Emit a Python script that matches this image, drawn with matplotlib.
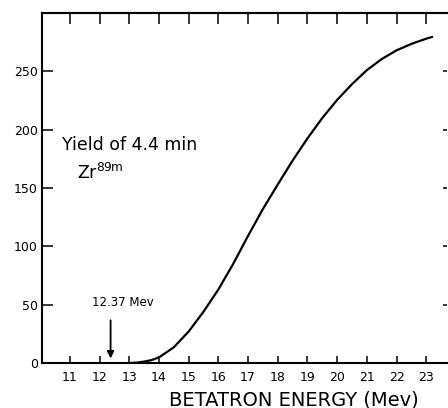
import matplotlib
matplotlib.use("Agg")
import matplotlib.pyplot as plt

# === Data ===
ENERGY = [13.0, 13.25, 13.5, 13.75, 14.0, 14.5, 15.0, 15.5, 16.0, 16.5, 17.0,
          17.5, 18.0, 18.5, 19.0, 19.5, 20.0, 20.5, 21.0, 21.5, 22.0, 22.5,
          23.0, 23.2]
YIELD = [0, 0.3, 1.2, 2.5, 4.8, 13.5, 27, 44, 63, 85, 109,
         132, 153, 173.5, 192.5, 210, 225.5, 239, 251, 260.5, 268, 273.5,
         278, 279.5]
X_TICKS = list(range(11, 24))
Y_TICKS = [0, 50, 100, 150, 200, 250]
THRESHOLD = 12.37

fig = plt.figure(figsize=(4.48, 4.08), dpi=100)
ax = fig.add_axes([42 / 448, 1 - 363 / 408, 405 / 448, 350 / 408])

ax.plot(ENERGY, YIELD, color="black", linewidth=1.6,
        solid_capstyle="round", solid_joinstyle="round")

ax.set_xlim(10.06, 23.7)
ax.set_ylim(0, 300)

ax.set_xticks(X_TICKS)
ax.set_xticklabels([str(t) for t in X_TICKS], fontsize=9)
ax.set_yticks(Y_TICKS)
ax.set_yticklabels([str(t) for t in Y_TICKS], fontsize=9)

ax.tick_params(axis="x", direction="in", bottom=True, top=False,
               length=5, width=1.1, pad=6)
ax.tick_params(axis="y", direction="in", left=True, right=False,
               length=8, width=1.1, pad=3)

# longer ticks along the top, short ones on the right
top = ax.secondary_xaxis("top")
top.set_xticks(X_TICKS)
top.tick_params(direction="in", length=8, width=1.1, labeltop=False)
top.spines["top"].set_linewidth(1.5)

right = ax.secondary_yaxis("right")
right.set_yticks(Y_TICKS)
right.tick_params(direction="in", length=3, width=1.1, labelright=False)
right.spines["right"].set_visible(False)

for side in ["left", "bottom", "top"]:
    ax.spines[side].set_linewidth(1.5)
ax.spines["right"].set_visible(False)

# annotations
ax.text(10.73, 187, "Yield of 4.4 min", fontsize=12.5, va="center", ha="left")
ax.text(11.25, 163, r"Zr$^{\mathregular{89m}}$", fontsize=12.5, va="center", ha="left")

ax.annotate("", xy=(THRESHOLD, 1.5), xytext=(THRESHOLD, 39),
            arrowprops=dict(arrowstyle="-|>", color="black", lw=1.3,
                            mutation_scale=10))
ax.text(11.74, 51.5, "12.37 Mev", fontsize=8.5, va="center", ha="left")

fig.text(294 / 448, 8 / 408, "BETATRON ENERGY (Mev)", fontsize=14,
         ha="center", va="center")

fig.savefig("out.png", dpi=100)
